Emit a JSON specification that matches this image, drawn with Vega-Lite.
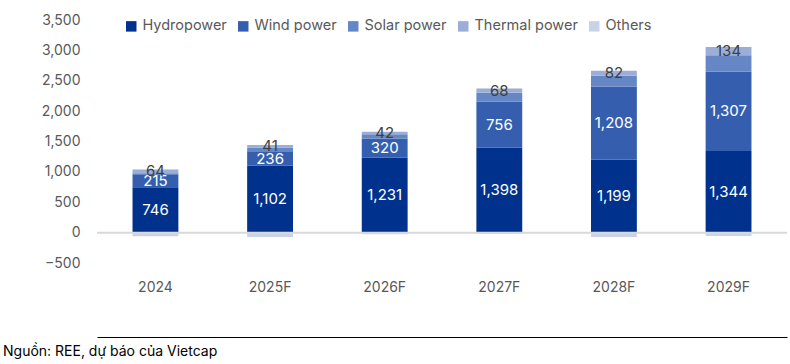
{
  "$schema": "https://vega.github.io/schema/vega-lite/v6.json",
  "width": 690,
  "height": 243,
  "autosize": "none",
  "padding": {"left": 97, "top": 20, "right": 3, "bottom": 101},
  "background": "white",
  "config": {
    "font": "Inter",
    "view": {"stroke": null},
    "axis": {"labelFont": "Inter", "labelColor": "#595959", "labelFontSize": 14},
    "axisY": {"format": ",d", "labelOverlap": false, "tickCount": 20},
    "legend": {"labelFont": "Inter"}
  },
  "title": {
    "text": "Nguồn: REE, dự báo của Vietcap",
    "orient": "bottom",
    "anchor": "start",
    "frame": "group",
    "dx": -94,
    "offset": 8,
    "fontSize": 14,
    "fontWeight": "normal",
    "font": "Inter",
    "color": "#000000"
  },
  "datasets": {
    "power": [
      {"year": "2024", "series": "Hydropower", "value": 746},
      {"year": "2024", "series": "Wind power", "value": 215},
      {"year": "2024", "series": "Solar power", "value": 15},
      {"year": "2024", "series": "Thermal power", "value": 64},
      {"year": "2024", "series": "Others", "value": -60},
      {"year": "2025F", "series": "Hydropower", "value": 1102},
      {"year": "2025F", "series": "Wind power", "value": 236},
      {"year": "2025F", "series": "Solar power", "value": 65},
      {"year": "2025F", "series": "Thermal power", "value": 41},
      {"year": "2025F", "series": "Others", "value": -70},
      {"year": "2026F", "series": "Hydropower", "value": 1231},
      {"year": "2026F", "series": "Wind power", "value": 320},
      {"year": "2026F", "series": "Solar power", "value": 68},
      {"year": "2026F", "series": "Thermal power", "value": 42},
      {"year": "2026F", "series": "Others", "value": -25},
      {"year": "2027F", "series": "Hydropower", "value": 1398},
      {"year": "2027F", "series": "Wind power", "value": 756},
      {"year": "2027F", "series": "Solar power", "value": 150},
      {"year": "2027F", "series": "Thermal power", "value": 68},
      {"year": "2027F", "series": "Others", "value": -20},
      {"year": "2028F", "series": "Hydropower", "value": 1199},
      {"year": "2028F", "series": "Wind power", "value": 1208},
      {"year": "2028F", "series": "Solar power", "value": 175},
      {"year": "2028F", "series": "Thermal power", "value": 82},
      {"year": "2028F", "series": "Others", "value": -70},
      {"year": "2029F", "series": "Hydropower", "value": 1344},
      {"year": "2029F", "series": "Wind power", "value": 1307},
      {"year": "2029F", "series": "Solar power", "value": 270},
      {"year": "2029F", "series": "Thermal power", "value": 134},
      {"year": "2029F", "series": "Others", "value": -55}
    ],
    "rank": [
      {"series": "Hydropower", "rank": 1},
      {"series": "Wind power", "rank": 2},
      {"series": "Solar power", "rank": 3},
      {"series": "Thermal power", "rank": 4},
      {"series": "Others", "rank": 5}
    ]
  },
  "data": {"name": "power"},
  "transform": [
    {"lookup": "series", "from": {"data": {"name": "rank"}, "key": "series", "fields": ["rank"]}},
    {"stack": "value", "groupby": ["year"], "sort": [{"field": "rank", "order": "ascending"}], "as": ["y0", "y1"]}
  ],
  "encoding": {
    "x": {
      "field": "year",
      "type": "nominal",
      "sort": null,
      "scale": {"paddingInner": 0.6, "paddingOuter": 0.31},
      "axis": {
        "title": null,
        "labelAngle": 0,
        "ticks": false,
        "domain": true,
        "domainColor": "#000000",
        "domainWidth": 1,
        "offset": 74,
        "labelPadding": -57,
        "labelBaseline": "top",
        "labelFontSize": 14
      }
    }
  },
  "layer": [
    {
      "mark": {"type": "bar"},
      "encoding": {
        "y": {
          "field": "y0",
          "type": "quantitative",
          "scale": {"domain": [-500, 3500], "nice": false},
          "axis": {
            "title": null,
            "grid": false,
            "domain": false,
            "ticks": false,
            "labelPadding": 17,
            "labelOverlap": false,
            "tickCount": 20,
            "values": [-500, 0, 500, 1000, 1500, 2000, 2500, 3000, 3500],
            "format": ",d"
          }
        },
        "y2": {"field": "y1"},
        "color": {
          "field": "series",
          "type": "nominal",
          "scale": {
            "domain": ["Hydropower", "Wind power", "Solar power", "Thermal power", "Others"],
            "range": ["#00318C", "#355FAE", "#6687C5", "#9AAED7", "#C9D3E8"]
          },
          "legend": {
            "title": null,
            "orient": "none",
            "direction": "horizontal",
            "legendX": 27,
            "legendY": -1,
            "symbolType": "square",
            "symbolSize": 110,
            "symbolStrokeWidth": 0,
            "labelFontSize": 14.5,
            "labelColor": "#595959",
            "columnPadding": 9,
            "labelOffset": 4
          }
        }
      }
    },
    {
      "data": {"values": [{}]},
      "mark": {"type": "rule", "color": "#D9D9D9", "strokeWidth": 2},
      "encoding": {"y": {"datum": 0, "type": "quantitative"}, "x": null}
    },
    {
      "transform": [
        {"filter": {"field": "series", "oneOf": ["Hydropower", "Wind power"]}},
        {"fold": ["y0", "y1"], "as": ["k", "v"]},
        {"aggregate": [{"op": "mean", "field": "v", "as": "mid"}], "groupby": ["year", "series", "value"]}
      ],
      "mark": {"type": "text", "color": "#FFFFFF", "fontSize": 15, "baseline": "middle"},
      "encoding": {
        "y": {"field": "mid", "type": "quantitative"},
        "text": {"field": "value", "type": "quantitative", "format": ","}
      }
    },
    {
      "transform": [
        {"filter": {"field": "series", "oneOf": ["Thermal power"]}},
        {"fold": ["y0", "y1"], "as": ["k", "v"]},
        {"aggregate": [{"op": "mean", "field": "v", "as": "mid"}], "groupby": ["year", "series", "value"]}
      ],
      "mark": {"type": "text", "color": "#404040", "fontSize": 15, "baseline": "middle"},
      "encoding": {
        "y": {"field": "mid", "type": "quantitative"},
        "text": {"field": "value", "type": "quantitative", "format": ","}
      }
    }
  ]
}
